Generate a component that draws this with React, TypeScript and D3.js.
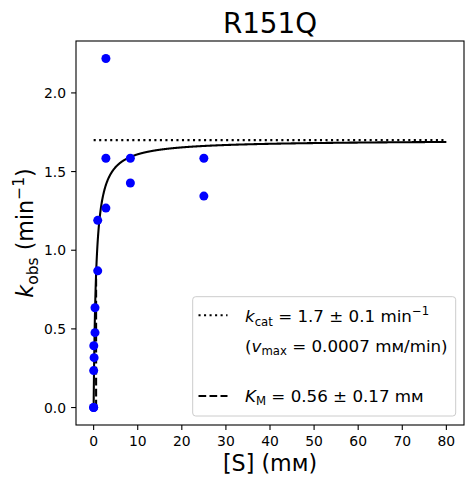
import React from "react";
import * as d3 from "d3";

const concentrations = [0, 0, 0.0114, 0.0343, 0.103, 0.309, 0.309, 0.926, 0.926, 2.78, 2.78, 2.78, 8.33, 8.33, 25, 25];
const kobsValues = [0, 0, 0.235, 0.393, 0.317, 0.476, 0.634, 0.869, 1.19, 1.268, 1.585, 2.219, 1.427, 1.585, 1.344, 1.585];
const xTicks = [0, 10, 20, 30, 40, 50, 60, 70, 80];
const yTicks = [0, 0.5, 1.0, 1.5, 2.0];
const kcat = 1.7;
const KM = 0.56;
const sMax = 80;

const W = 473;
const H = 484;
const left = 76;
const right = 464;
const top = 41;
const bottom = 425;
const FONT = "DejaVu Sans, sans-serif";

export default function App() {
  const x = d3.scaleLinear().domain([-4, 84]).range([left, right]);
  const y = d3.scaleLinear().domain([-0.111, 2.33]).range([bottom, top]);

  const grid = d3.range(0, 1, 0.002).concat(d3.range(1, sMax + 0.0001, 0.05));
  const curve = d3
    .line<number>()
    .x((s) => x(s))
    .y((s) => y((kcat * s) / (KM + s)))(grid);

  const tickLen = 4.9;
  const lw = 2.08;

  return (
    <svg
      width={W}
      height={H}
      style={{ position: "absolute", left: 0, top: 0, background: "#fff" }}
      fontFamily={FONT}
    >
      <rect x={0} y={0} width={W} height={H} fill="#fff" />
      {/* title */}
      <text x={(left + right) / 2} y={33} fontSize={27.8} textAnchor="middle" fill="#000">
        R151Q
      </text>

      <defs>
        <clipPath id="plotclip">
          <rect x={left} y={top} width={right - left} height={bottom - top} />
        </clipPath>
      </defs>

      <g clipPath="url(#plotclip)">
        {/* kcat dotted line */}
        <line
          x1={x(0)}
          x2={x(sMax)}
          y1={y(kcat)}
          y2={y(kcat)}
          stroke="#000"
          strokeWidth={lw}
          strokeDasharray="2.08,3.44"
        />
        {/* KM dashed line */}
        <line
          x1={x(KM)}
          x2={x(KM)}
          y1={y(0)}
          y2={y(kcat / 2)}
          stroke="#000"
          strokeWidth={lw}
          strokeDasharray="7.7,3.3"
        />
        {/* fit curve */}
        <path d={curve ?? ""} fill="none" stroke="#000" strokeWidth={lw} />
        {/* data points */}
        {concentrations.map((s, i) => (
          <circle key={i} cx={x(s)} cy={y(kobsValues[i])} r={4.5} fill="#0000ff" />
        ))}
      </g>

      {/* axes frame */}
      <rect x={left} y={top} width={right - left} height={bottom - top} fill="none" stroke="#000" strokeWidth={1.1} />

      {/* x ticks */}
      {xTicks.map((t) => (
        <g key={"x" + t}>
          <line x1={x(t)} x2={x(t)} y1={bottom} y2={bottom + tickLen} stroke="#000" strokeWidth={1.1} />
          <text x={x(t)} y={446} fontSize={13.9} textAnchor="middle" fill="#000">
            {t}
          </text>
        </g>
      ))}
      {/* y ticks */}
      {yTicks.map((t) => (
        <g key={"y" + t}>
          <line x1={left - tickLen} x2={left} y1={y(t)} y2={y(t)} stroke="#000" strokeWidth={1.1} />
          <text x={66} y={y(t) + 5} fontSize={13.9} textAnchor="end" fill="#000">
            {d3.format(".1f")(t)}
          </text>
        </g>
      ))}

      {/* x label */}
      <text x={(left + right) / 2} y={471} fontSize={22.2} textAnchor="middle" fill="#000">
        [S] (mм)
      </text>

      {/* y label */}
      <text
        transform={`translate(33,${(top + bottom) / 2}) rotate(-90)`}
        fontSize={22.2}
        textAnchor="middle"
        fill="#000"
      >
        <tspan fontStyle="italic">k</tspan>
        <tspan fontSize={15.5} dy={4.5}>obs</tspan>
        <tspan dy={-4.5}> (min</tspan>
        <tspan fontSize={15.5} dy={-9}>−1</tspan>
        <tspan dy={9}>)</tspan>
      </text>

      {/* legend */}
      <rect
        x={192.7}
        y={296.7}
        width={263}
        height={119.3}
        rx={3}
        ry={3}
        fill="#fff"
        fillOpacity={0.8}
        stroke="#cccccc"
        strokeWidth={1}
      />
      <line x1={198.5} x2={227.5} y1={315.3} y2={315.3} stroke="#000" strokeWidth={lw} strokeDasharray="2.08,3.44" />
      <line x1={198.5} x2={227.5} y1={396} y2={396} stroke="#000" strokeWidth={lw} strokeDasharray="7.7,3.3" />
      <text x={245} y={322.3} fontSize={16.7} fill="#000">
        <tspan fontStyle="italic">k</tspan>
        <tspan fontSize={11.7} dy={3.5}>cat</tspan>
        <tspan dy={-3.5}> = 1.7 ± 0.1 min</tspan>
        <tspan fontSize={11.7} dy={-7}>−1</tspan>
      </text>
      <text x={245} y={351.7} fontSize={16.7} fill="#000">
        <tspan>(</tspan>
        <tspan fontStyle="italic">v</tspan>
        <tspan fontSize={11.7} dy={3.5}>max</tspan>
        <tspan dy={-3.5}> = 0.0007 mм/min)</tspan>
      </text>
      <text x={245} y={401.7} fontSize={16.7} fill="#000">
        <tspan fontStyle="italic">K</tspan>
        <tspan fontSize={11.7} dy={3.5}>M</tspan>
        <tspan dy={-3.5}> = 0.56 ± 0.17 mм</tspan>
      </text>
    </svg>
  );
}
